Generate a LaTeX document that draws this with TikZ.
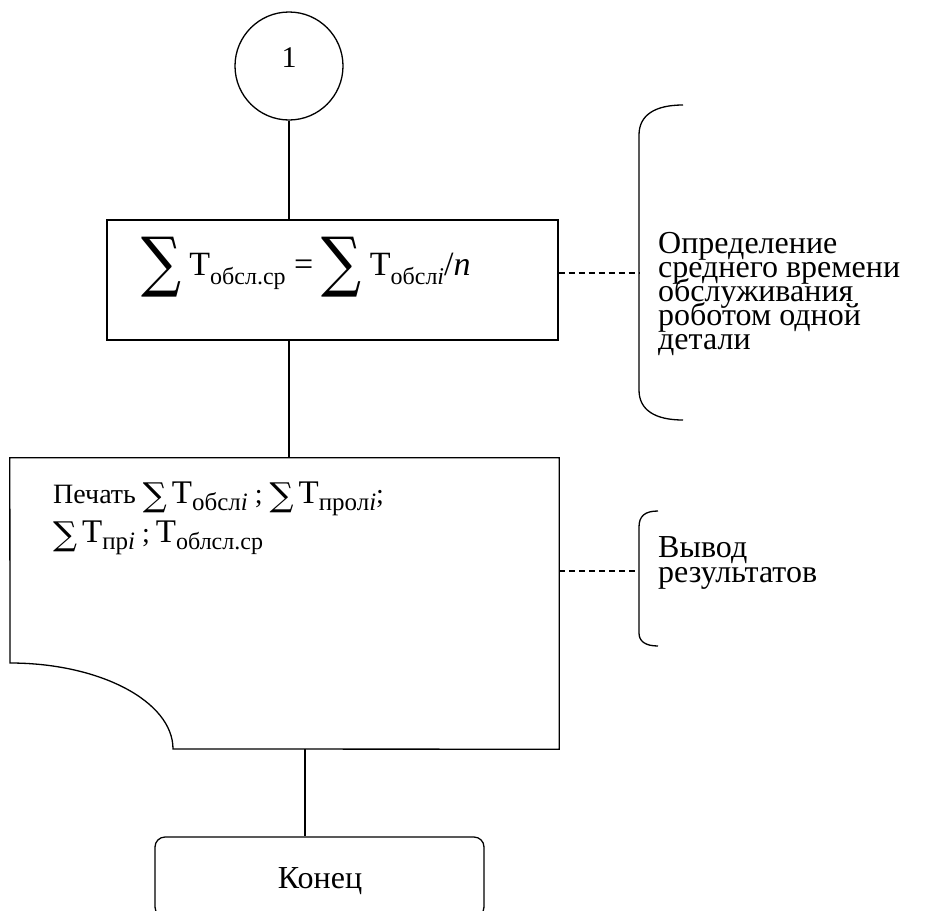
\documentclass[tikz,border=0pt]{standalone}
\usepackage{graphicx}
\usepackage{fontspec}
\setmainfont{Liberation Serif}
\newfontfamily\symfont{DejaVu Serif}

% sum sign of width #1 and height #2, its foot #3 below the baseline
\newcommand\bigS[3]{\raisebox{-#3}{\resizebox{#1}{#2}{\raisebox{\depth}{\symfont ∑}}}}
% letter T (size #1) with an upright subscript #3 (size #2), dropped by #4
\newcommand\TT[4]{{\fontsize{#1}{#1}\selectfont Т}\raisebox{-#4}{\fontsize{#2}{#2}\selectfont #3}}

\begin{document}
\begin{tikzpicture}[x=1pt,y=-1pt,
  line/.style={line width=1.3pt},
  lead/.style={line width=1.1pt,dash pattern=on 6pt off 4pt},
  brace/.style={line width=1.3pt},
  note/.style={anchor=base west,inner sep=0pt,font=\fontsize{32}{32}\selectfont},
  body/.style={anchor=base west,inner sep=0pt,font=\fontsize{28}{30}\selectfont}]
\useasboundingbox[fill=white] (0,0) rectangle (928,910);

% connector circle
\node[circle,draw,line,minimum size=108pt,inner sep=0pt] (c1) at (289,66) {};
\node[anchor=base,inner sep=0pt,font=\fontsize{30}{30}\selectfont] (c1t) at (289,67) {1};

% process block
\node[draw,line,minimum width=451pt,minimum height=120pt,inner sep=0pt] (r1) at (332.5,280) {};
\node[anchor=base,inner sep=0pt,font=\fontsize{34}{34}\selectfont] (r1t) at (306,275)
  {\bigS{40pt}{60pt}{22pt}\hspace{8pt}\TT{34}{24}{обсл.ср}{9pt} = \bigS{40pt}{60pt}{22pt}\hspace{8pt}\TT{34}{24}{обсл\textit{i}}{9pt}/\textit{n}};

% document block (curved lower left corner)
\node[inner sep=0pt,minimum width=549pt,minimum height=291pt] (doc) at (284.5,603.5) {};
\draw[line] (doc.north west) -- (doc.north east) -- (doc.south east) -- (173,749)
  .. controls (173,701.5) and (100,663) .. (10,663) -- cycle;
\node[body] (p1) at (53,503)
  {Печать \bigS{24pt}{30pt}{10pt}\hspace{5pt}\TT{33}{25}{обсл\textit{i}}{7pt} ; \bigS{24pt}{30pt}{10pt}\hspace{5pt}\TT{33}{25}{прол\textit{i}}{7pt};};
\node[body] (p2) at (53,542)
  {\bigS{24pt}{30pt}{10pt}\hspace{5pt}\TT{33}{25}{пр\textit{i}}{7pt} ;\hspace{6pt}\TT{33}{24}{облсл.ср}{7pt}};

% terminator
\node[draw,line,rounded corners=10pt,minimum width=329pt,minimum height=80pt,inner sep=0pt] (end) at (319.5,877) {};
\node[anchor=base,inner sep=0pt,font=\fontsize{32}{32}\selectfont] (endt) at (320,888) {Конец};

% flow lines
\draw[line] (c1.south) -- (r1.north -| c1.south);
\draw[line] (r1.south -| c1.south) -- (doc.north -| c1.south);
\coordinate (d1) at (305,749);
\draw[line] (d1) -- (end.north -| d1);

% comment braces
\coordinate (b1) at (639,273);
\coordinate (b2) at (639,571);
\draw[brace] (683,105) .. controls (655,105) and (639,115) .. (639,135) -- (639,390)
  .. controls (639,410) and (655,420) .. (683,420);
\draw[brace] (658,511) .. controls (645,511) and (639,516) .. (639,527) -- (639,633)
  .. controls (639,641) and (645,646) .. (658,646);
\draw[lead] (r1.east |- b1) -- (b1);
\draw[lead] (doc.east |- b2) -- (b2);

% comment texts
\node[note] (n1a) at (658,253) {Определение};
\node[note] (n1b) at (658,277) {среднего времени};
\node[note] (n1c) at (658,301) {обслуживания};
\node[note] (n1d) at (658,325) {роботом одной};
\node[note] (n1e) at (658,349) {детали};
\node[note] (n2a) at (658,557) {Вывод};
\node[note] (n2b) at (658,582) {результатов};
\end{tikzpicture}
\end{document}
